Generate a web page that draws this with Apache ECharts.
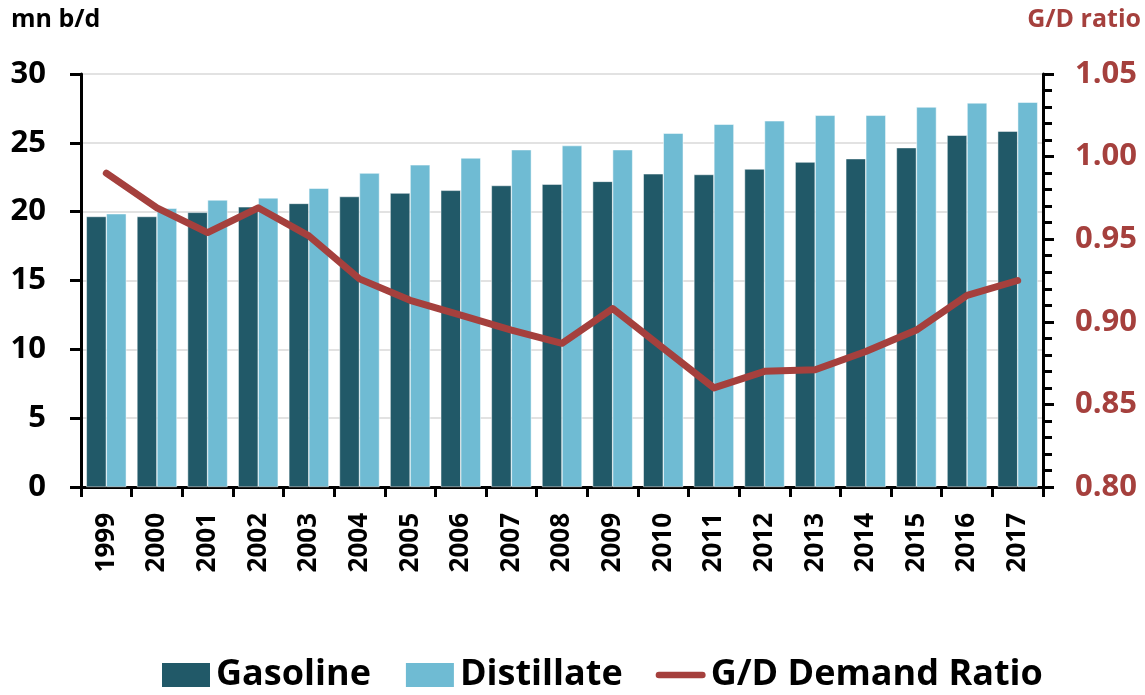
<!DOCTYPE html>
<html><head><meta charset="utf-8">
<script src="https://cdn.jsdelivr.net/npm/echarts@6/dist/echarts.min.js"></script>
<style>html,body{margin:0;padding:0;background:#fff}#c{width:1145px;height:695px}</style>
</head><body><div id="c"></div>
<script>
const years = ['1999','2000','2001','2002','2003','2004','2005','2006','2007','2008','2009','2010','2011','2012','2013','2014','2015','2016','2017'];
const gasoline = [19.65,19.65,19.95,20.35,20.6,21.1,21.35,21.55,21.9,22.0,22.2,22.75,22.7,23.1,23.6,23.85,24.65,25.55,25.85];
const distillate = [19.85,20.25,20.85,21.0,21.7,22.8,23.4,23.9,24.5,24.8,24.5,25.7,26.35,26.6,27.0,27.0,27.6,27.9,27.95];
const ratio = [0.990,0.969,0.954,0.969,0.952,0.926,0.913,0.904,0.895,0.887,0.908,0.884,0.860,0.870,0.871,0.882,0.895,0.916,0.925];
const leftTicks = {min:0,max:30,interval:5};
const rightTicks = {min:0.80,max:1.05,interval:0.05};

const FONT = '"Open Sans", "Noto Sans", sans-serif';
const RED = '#A5403D';
const chart = echarts.init(document.getElementById('c'));
chart.setOption({
  animation:false,
  textStyle:{fontFamily:FONT},
  grid:{left:81,right:102,top:74,bottom:208,containLabel:false},
  graphic:[
    {type:'text',left:11,top:7,style:{text:'mn b/d',font:'bold 25px '+FONT,fill:'#000'}},
    {type:'text',right:4,top:7,style:{text:'G/D ratio',font:'bold 25px '+FONT,fill:RED}}
  ],
  legend:{
    bottom:-3,left:155,itemWidth:50,itemHeight:26,itemGap:33,
    textStyle:{fontSize:36,fontWeight:'bold',color:'#000',fontFamily:FONT},
    data:[
      {name:'Gasoline',icon:'rect'},
      {name:'Distillate',icon:'rect'},
      {name:'G/D Demand Ratio',icon:'path://M4,0h52a4,4 0 0 1 0,8h-52a4,4 0 0 1 0,-8z'}
    ]
  },
  xAxis:{
    type:'category',data:years,
    axisLine:{lineStyle:{color:'#000',width:3}},
    axisTick:{show:true,length:10,lineStyle:{color:'#000',width:3}},
    axisLabel:{rotate:90,fontSize:26,fontWeight:'bold',color:'#000',margin:26,fontFamily:FONT},
    splitLine:{show:false}
  },
  yAxis:[
    {type:'value',min:leftTicks.min,max:leftTicks.max,interval:leftTicks.interval,
     axisLine:{show:true,lineStyle:{color:'#000',width:3}},
     axisTick:{show:true,length:11,lineStyle:{color:'#000',width:3}},
     axisLabel:{fontSize:31,fontWeight:'bold',color:'#000',margin:35,fontFamily:FONT},
     splitLine:{show:true,lineStyle:{color:'#d9d9d9',width:1.5}}},
    {type:'value',min:rightTicks.min,max:rightTicks.max,interval:rightTicks.interval,position:'right',
     axisLine:{show:true,lineStyle:{color:'#000',width:3}},
     axisTick:{show:true,length:11,lineStyle:{color:'#000',width:3}},
     minorTick:{show:true,splitNumber:5,length:9,lineStyle:{color:'#000',width:3}},
     axisLabel:{fontSize:31,fontWeight:'bold',color:RED,margin:32,fontFamily:FONT,formatter:v=>v.toFixed(2)},
     splitLine:{show:false}}
  ],
  series:[
    {name:'Gasoline',type:'bar',data:gasoline,barWidth:20,barGap:'0%',
     itemStyle:{color:'#215968',borderColor:'#ffffff',borderWidth:0.5}},
    {name:'Distillate',type:'bar',data:distillate,barWidth:20,barGap:'0%',
     itemStyle:{color:'#6FBBD3',borderColor:'#ffffff',borderWidth:0.5}},
    {name:'G/D Demand Ratio',type:'line',yAxisIndex:1,data:ratio,showSymbol:false,symbol:'none',
     lineStyle:{color:RED,width:7,cap:'round',join:'round'},itemStyle:{color:RED}}
  ]
});
</script></body></html>
